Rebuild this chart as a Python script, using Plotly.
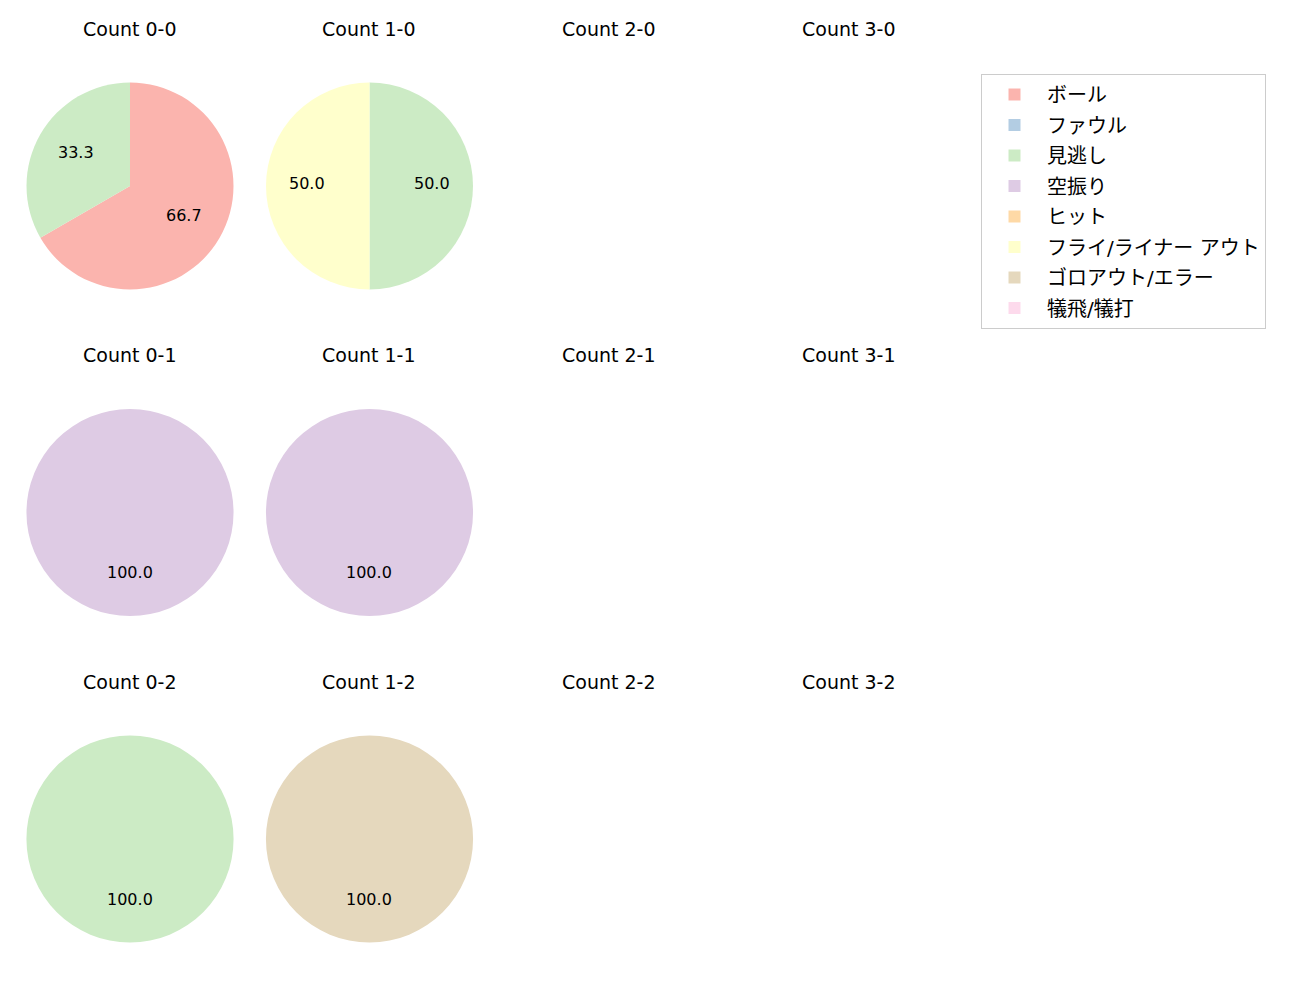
import math
import plotly.graph_objects as go

W, H = 1300, 1000
OFF = 8  # default page body margin offsets the figure

counts = ["0-0", "1-0", "2-0", "3-0",
          "0-1", "1-1", "2-1", "3-1",
          "0-2", "1-2", "2-2", "3-2"]
outcomes = ["ボール", "ファウル", "見逃し", "空振り", "ヒット",
            "フライ/ライナー アウト", "ゴロアウト/エラー", "犠飛/犠打"]
colors = ["#fbb4ae", "#b3cde3", "#ccebc5", "#decbe4", "#fed9a6",
          "#ffffcc", "#e5d8bd", "#fddaec"]

ball      = [2, 0, 0, 0, 0, 0, 0, 0, 0, 0, 0, 0]
foul      = [0, 0, 0, 0, 0, 0, 0, 0, 0, 0, 0, 0]
minogashi = [1, 1, 0, 0, 0, 0, 0, 0, 1, 0, 0, 0]
karaburi  = [0, 0, 0, 0, 1, 1, 0, 0, 0, 0, 0, 0]
hit       = [0, 0, 0, 0, 0, 0, 0, 0, 0, 0, 0, 0]
fly       = [0, 1, 0, 0, 0, 0, 0, 0, 0, 0, 0, 0]
goro      = [0, 0, 0, 0, 0, 0, 0, 0, 0, 1, 0, 0]
gisei     = [0, 0, 0, 0, 0, 0, 0, 0, 0, 0, 0, 0]
series = [ball, foul, minogashi, karaburi, hit, fly, goro, gisei]

# layout geometry (screen pixels)
col_cx = [130, 369.5, 609, 849]
row_cy = [186, 512.5, 839]
R = 103.5
title_dy = 157

def px_x(x):
    return (x - OFF) / W

def px_y(y):
    return 1 - (y - OFF) / H

LATIN = "DejaVu Sans, Noto Sans CJK JP"
fig = go.Figure()
annotations = []

# legend-only carrier pies (tiny, hidden behind the legend box),
# one legend group each so the row spacing can be tuned
for lab, col in zip(outcomes, colors):
    fig.add_trace(go.Pie(
        labels=[lab], values=[1], sort=False, textinfo="none",
        marker=dict(colors=[col], line=dict(width=0)),
        domain=dict(x=[px_x(1150), px_x(1152)], y=[px_y(202), px_y(200)]),
        legendgroup=lab, showlegend=True, hoverinfo="skip"))

for i, c in enumerate(counts):
    r, k = divmod(i, 4)
    cx, cy = col_cx[k], row_cy[r]
    annotations.append(dict(
        x=px_x(cx), y=px_y(cy - title_dy), xref="paper", yref="paper",
        text=f"Count {c}", showarrow=False, xanchor="center", yanchor="middle",
        font=dict(family=LATIN, size=19, color="#000")))
    vals = [s[i] for s in series]
    total = sum(vals)
    if total == 0:
        continue
    fig.add_trace(go.Pie(
        labels=outcomes, values=vals, sort=False, direction="clockwise",
        rotation=0, textinfo="none", hoverinfo="label+percent",
        marker=dict(colors=colors, line=dict(width=0)),
        domain=dict(x=[px_x(cx - R), px_x(cx + R)],
                    y=[px_y(cy + R), px_y(cy - R)]),
        showlegend=False, name=f"Count {c}"))
    cum = 0
    for v in vals:
        if v > 0:
            theta = math.radians(90 - 360 * (cum + v / 2) / total)
            lx = cx + 0.6 * R * math.cos(theta)
            ly = cy - 0.6 * R * math.sin(theta) - 2
            annotations.append(dict(
                x=px_x(lx), y=px_y(ly), xref="paper", yref="paper",
                text=f"{100 * v / total:.1f}", showarrow=False,
                xanchor="center", yanchor="middle",
                font=dict(family=LATIN, size=16, color="#000")))
        cum += v

fig.update_layout(
    width=W, height=H, autosize=False,
    margin=dict(l=0, r=0, t=0, b=0),
    paper_bgcolor="white", plot_bgcolor="white",
    font=dict(family=LATIN, color="#000"),
    annotations=annotations,
    legend=dict(x=px_x(981), y=px_y(74), xanchor="left", yanchor="top",
                bordercolor="#cccccc", borderwidth=1, bgcolor="white",
                font=dict(family=LATIN, size=20, color="#000"),
                traceorder="grouped", tracegroupgap=1.5, itemwidth=55,
                itemsizing="constant"),
)

fig.write_html("out.html")
